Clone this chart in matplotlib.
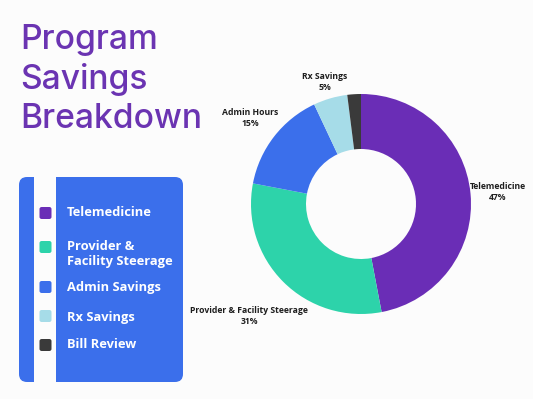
import matplotlib.pyplot as plt
from matplotlib.patches import FancyBboxPatch, Rectangle

# Chart data
categories = ['Telemedicine', 'Provider & Facility Steerage', 'Admin Hours', 'Rx Savings', 'Bill Review']
shares = [47, 31, 15, 5, 2]
colors = ['#6A2DB6', '#2DD3AA', '#3B6FEB', '#A6DCE8', '#3A3A3A']
legend_labels = ['Telemedicine', 'Provider &\nFacility Steerage', 'Admin Savings', 'Rx Savings', 'Bill Review']

W, H = 533, 399
fig = plt.figure(figsize=(W / 100, H / 100), dpi=100)
fig.patch.set_facecolor('#FCFCFC')

def fx(px):
    return px / W

def fy(py):
    return 1 - py / H

# Donut
ax = fig.add_axes([fx(251), fy(314), 220 / W, 220 / H])
ax.pie(shares, colors=colors, startangle=90, counterclock=False,
       wedgeprops=dict(width=0.5, linewidth=0))
ax.set_aspect('equal')
ax.set_xlim(-1, 1)
ax.set_ylim(-1, 1)
ax.axis('off')

# Slice labels
lab_pos = {
    'Telemedicine': (498, 192),
    'Provider & Facility Steerage': (249, 316),
    'Admin Hours': (250, 118),
    'Rx Savings': (325, 82),
}
for cat, val in zip(categories, shares):
    if cat not in lab_pos:
        continue
    x, y = lab_pos[cat]
    fig.text(fx(x), fy(y), f'{cat}\n{val}%', ha='center', va='center',
             fontsize=6.2, fontweight='bold', color='#1E1E1E',
             family='Open Sans', linespacing=1.3)

# Title
title_lines = ['Program', 'Savings', 'Breakdown']
for i, line in enumerate(title_lines):
    fig.text(fx(20), fy(49 + i * 39.5), line, ha='left', va='baseline',
             fontsize=24.2, color='#6B34B2', family='Inter', fontweight='medium')

# Legend panel
panel = FancyBboxPatch((fx(19), fy(382)), fx(164), 205 / H,
                       boxstyle='round,pad=0,rounding_size=0.015',
                       transform=fig.transFigure, facecolor='#3B6FEB',
                       edgecolor='none', mutation_aspect=W / H)
fig.patches.append(panel)
fig.patches.append(Rectangle((fx(34), fy(382)), fx(22), 205 / H,
                             transform=fig.transFigure, facecolor='#FCFCFC',
                             edgecolor='none'))

rows_y = [213, 254, 287, 317, 345]
sq_y = [213, 247, 287, 316, 345]
for lab, col, ty, sy in zip(legend_labels, colors, rows_y, sq_y):
    sq = FancyBboxPatch((fx(39.5), fy(sy + 6)), fx(12), 12 / H,
                        boxstyle='round,pad=0,rounding_size=0.004',
                        transform=fig.transFigure, facecolor=col,
                        edgecolor='none', mutation_aspect=W / H)
    fig.patches.append(sq)
    fig.text(fx(67), fy(ty), lab, ha='left', va='center', fontsize=9.3,
             fontweight='bold', color='white', family='Open Sans',
             linespacing=1.15)

fig.savefig('out.png', dpi=100, facecolor=fig.get_facecolor())
